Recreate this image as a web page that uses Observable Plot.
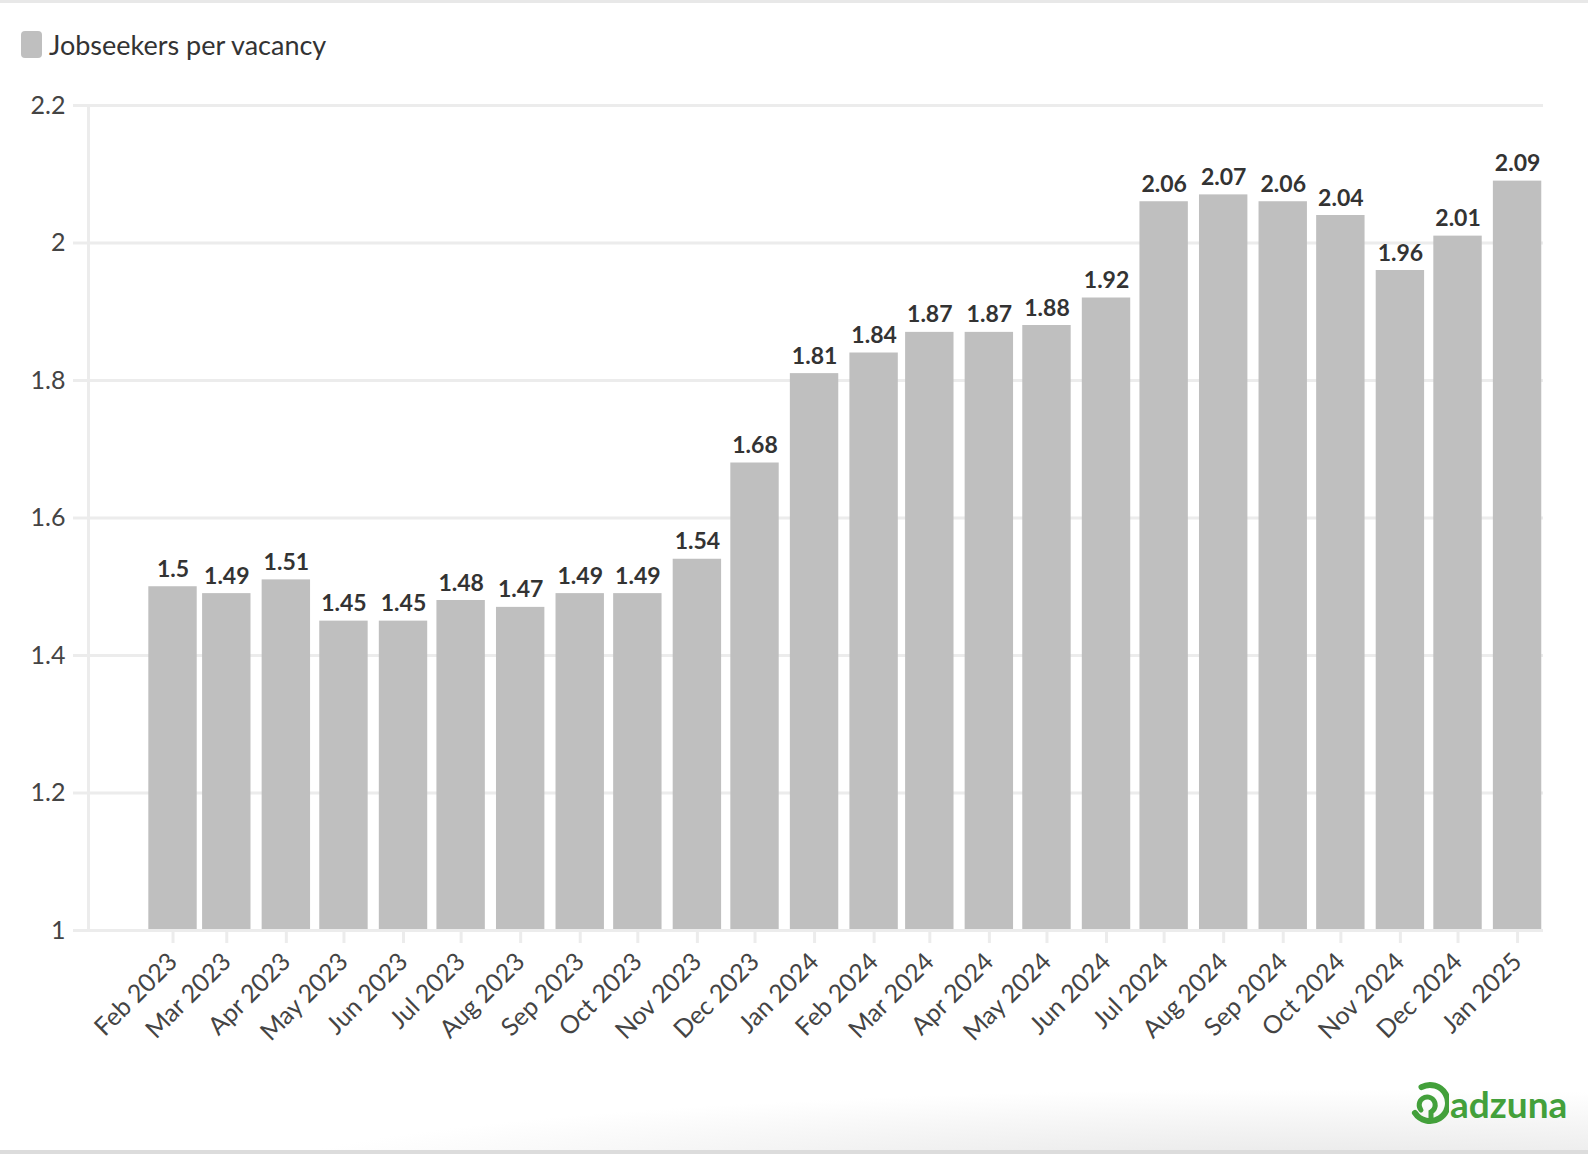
<!DOCTYPE html>
<html>
<head>
<meta charset="utf-8">
<script src="https://cdn.jsdelivr.net/npm/d3@7"></script>
<script src="https://cdn.jsdelivr.net/npm/@observablehq/plot@0.6"></script>
<style>
  html, body { margin: 0; padding: 0; background: #fff; }
  body { width: 1588px; height: 1154px; position: relative; overflow: hidden; font-family: Lato, "Noto Sans", sans-serif; }
  #topline { position: absolute; left: 0; top: 0; width: 1588px; height: 3px; background: #e8e8e8; }
  #shade { position: absolute; left: 0; top: 1050px; width: 1588px; height: 104px;
    background: radial-gradient(ellipse 1350px 120px at 1320px 135px, #e2e2e2 0%, #f2f2f2 45%, rgba(255,255,255,0) 80%); }
  #botline { position: absolute; left: 0; top: 1150px; width: 1588px; height: 4px; background: #dcdcdc; }
  #legend { position: absolute; left: 21px; top: 28px; display: flex; align-items: center; font-size: 27px; color: #333; }
  #legend .sw { width: 21px; height: 27px; border-radius: 4px; background: #bfbfbf; margin-right: 7px; }
  #chart { position: absolute; left: 0; top: 0; }
  #logo { position: absolute; left: 1407px; top: 1080px; display: flex; align-items: center; color: #43a03b; font-weight: 700; font-size: 37px; letter-spacing: 0px; }
  #logo svg { margin-right: 1px; }
</style>
</head>
<body>
<div id="topline"></div>
<div id="shade"></div>
<div id="botline"></div>
<div id="chart"></div>
<div id="legend"><div class="sw"></div><span>Jobseekers per vacancy</span></div>
<div id="logo">
  <svg width="42" height="46" viewBox="0 0 42 46">
    <path d="M21 6 A18 18 0 1 1 6 28" fill="none" stroke="#43a03b" stroke-width="6" stroke-linecap="round" transform="rotate(-20 21 25)"/>
    <path d="M14 30 A8 8 0 1 1 24 32 L24 40" fill="none" stroke="#43a03b" stroke-width="5" stroke-linecap="round"/>
  </svg>
  <span>adzuna</span>
</div>
<script>
const months = ["2023-02","2023-03","2023-04","2023-05","2023-06","2023-07","2023-08","2023-09","2023-10","2023-11","2023-12",
  "2024-01","2024-02","2024-03","2024-04","2024-05","2024-06","2024-07","2024-08","2024-09","2024-10","2024-11","2024-12","2025-01"];
const values = [1.5,1.49,1.51,1.45,1.45,1.48,1.47,1.49,1.49,1.54,1.68,1.81,1.84,1.87,1.87,1.88,1.92,2.06,2.07,2.06,2.04,1.96,2.01,2.09];
const yTicks = [1, 1.2, 1.4, 1.6, 1.8, 2, 2.2];
const seriesName = "Jobseekers per vacancy";

const data = months.map((m, i) => ({date: d3.utcParse("%Y-%m")(m), value: values[i]}));
const halfBar = 12.6 * 864e5;
const dates = data.map(d => d.date);

const chart = Plot.plot({
  width: 1588,
  height: 1070,
  marginLeft: 88,
  marginRight: 45,
  marginTop: 105,
  marginBottom: 140,
  style: {fontFamily: "Lato, 'Noto Sans', sans-serif", background: "transparent", color: "#444"},
  x: {type: "utc", domain: [new Date(Date.UTC(2022, 11, 19)), new Date(Date.UTC(2025, 0, 14, 12))]},
  y: {domain: [1, 2.2]},
  marks: [
    Plot.gridY(yTicks, {stroke: "#ececec", strokeOpacity: 1, strokeWidth: 3}),
    Plot.frame({anchor: "left", stroke: "#ececec", strokeWidth: 3}),
    Plot.rectY(data, {
      x1: d => new Date(+d.date - halfBar),
      x2: d => new Date(+d.date + halfBar),
      y1: 1, y2: "value", fill: "#bfbfbf"
    }),
    Plot.ruleY([1], {stroke: "#ececec", strokeWidth: 3}),
    Plot.text(data, {x: "date", y: "value", text: d => String(d.value), dy: -10, lineAnchor: "bottom",
      fontWeight: 700, fontSize: 23, fill: "#333"}),
    Plot.axisY({ticks: yTicks, tickSize: 15, stroke: "#ececec", strokeWidth: 3, fill: "#444",
      fontSize: 25, tickPadding: 8, tickFormat: d => String(d), label: null}),
    Plot.axisX({ticks: dates, tickSize: 13, stroke: "#ececec", strokeWidth: 3, fill: "#444",
      fontSize: 25, tickRotate: -45, tickPadding: 14, tickFormat: d3.utcFormat("%b %Y"), label: null})
  ]
});
document.getElementById("chart").appendChild(chart);
</script>
</body>
</html>
